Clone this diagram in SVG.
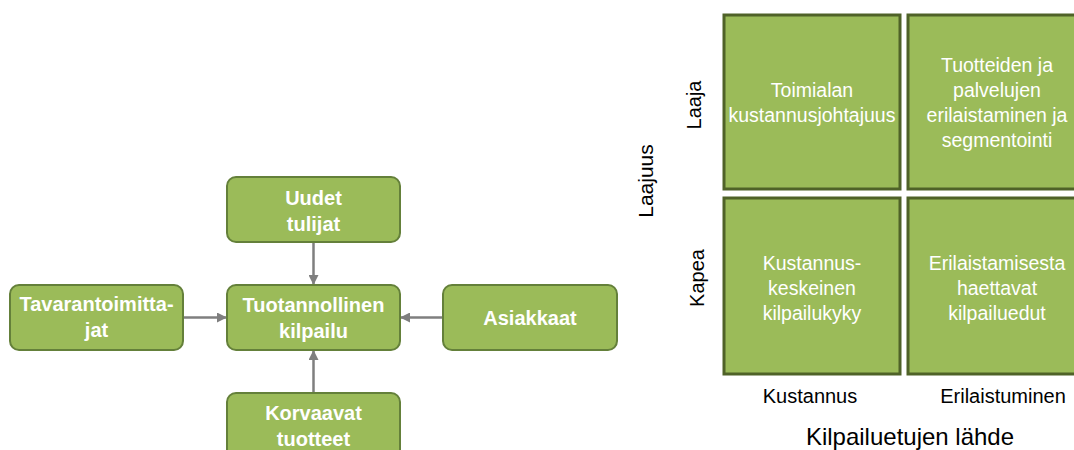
<svg xmlns="http://www.w3.org/2000/svg" width="1074" height="450" viewBox="0 0 1074 450">
<defs>
<marker id="ah" viewBox="0 0 10 10" refX="10" refY="5" markerWidth="4" markerHeight="4" orient="auto" markerUnits="strokeWidth">
<path d="M0,0 L10,5 L0,10 Z" fill="#7f7f7f"/>
</marker>
</defs>
<style>
.box{fill:#9bbb59;stroke:#64803a;stroke-width:2}
.cell{fill:#9bbb59;stroke:#4f6228;stroke-width:3}
.bt{font-family:"Liberation Sans",Arial,sans-serif;font-weight:bold;font-size:20px;fill:#fff;text-anchor:middle}
.ct{font-family:"Liberation Sans",Arial,sans-serif;font-size:19.5px;fill:#fff;text-anchor:middle}
.lb{font-family:"Liberation Sans",Arial,sans-serif;font-size:20px;fill:#000;text-anchor:middle}
.conn{stroke:#7f7f7f;stroke-width:2.5;fill:none;marker-end:url(#ah)}
</style>
<rect width="1074" height="450" fill="#fff"/>
<g id="connectors">
<line class="conn" x1="313.5" y1="243" x2="313.5" y2="285"/>
<line class="conn" x1="184" y1="317.5" x2="227" y2="317.5"/>
<line class="conn" x1="443" y1="317.5" x2="400" y2="317.5"/>
<line class="conn" x1="313.5" y1="393" x2="313.5" y2="350"/>
</g>
<g id="uudet">
<rect class="box" x="227" y="177" width="173" height="65" rx="9"/>
<text class="bt" x="313.5" y="205">Uudet</text>
<text class="bt" x="313.5" y="231">tulijat</text>
</g>
<g id="tuotannollinen">
<rect class="box" x="227" y="285" width="173" height="65" rx="9"/>
<text class="bt" x="313.5" y="312">Tuotannollinen</text>
<text class="bt" x="313.5" y="338">kilpailu</text>
</g>
<g id="tavarantoimittajat">
<rect class="box" x="10" y="285" width="173" height="65" rx="9"/>
<text class="bt" x="96.5" y="311">Tavarantoimitta-</text>
<text class="bt" x="96.5" y="337">jat</text>
</g>
<g id="asiakkaat">
<rect class="box" x="443" y="285" width="174" height="65" rx="9"/>
<text class="bt" x="530" y="325">Asiakkaat</text>
</g>
<g id="korvaavat">
<rect class="box" x="227" y="393" width="173" height="65" rx="9"/>
<text class="bt" x="313.5" y="420">Korvaavat</text>
<text class="bt" x="313.5" y="446">tuotteet</text>
</g>
<g id="cell-tl">
<rect class="cell" x="724" y="15" width="176" height="174"/>
<text class="ct" x="812" y="97">Toimialan</text>
<text class="ct" x="812" y="122">kustannusjohtajuus</text>
</g>
<g id="cell-tr">
<rect class="cell" x="908" y="15" width="178" height="174"/>
<text class="ct" x="997" y="72">Tuotteiden ja</text>
<text class="ct" x="997" y="97">palvelujen</text>
<text class="ct" x="997" y="122">erilaistaminen ja</text>
<text class="ct" x="997" y="147">segmentointi</text>
</g>
<g id="cell-bl">
<rect class="cell" x="724" y="198" width="176" height="176"/>
<text class="ct" x="812" y="270">Kustannus-</text>
<text class="ct" x="812" y="295">keskeinen</text>
<text class="ct" x="812" y="320">kilpailukyky</text>
</g>
<g id="cell-br">
<rect class="cell" x="908" y="198" width="178" height="176"/>
<text class="ct" x="997" y="270">Erilaistamisesta</text>
<text class="ct" x="997" y="295">haettavat</text>
<text class="ct" x="997" y="320">kilpailuedut</text>
</g>
<g id="axis-labels">
<text class="lb" transform="translate(701,105) rotate(-90)">Laaja</text>
<text class="lb" transform="translate(704,278) rotate(-90)">Kapea</text>
<text class="lb" style="font-size:21px" transform="translate(653,181) rotate(-90)">Laajuus</text>
<text class="lb" x="810" y="403">Kustannus</text>
<text class="lb" x="1003" y="403">Erilaistuminen</text>
<text class="lb" style="font-size:24px" x="910" y="445">Kilpailuetujen lähde</text>
</g>
</svg>
